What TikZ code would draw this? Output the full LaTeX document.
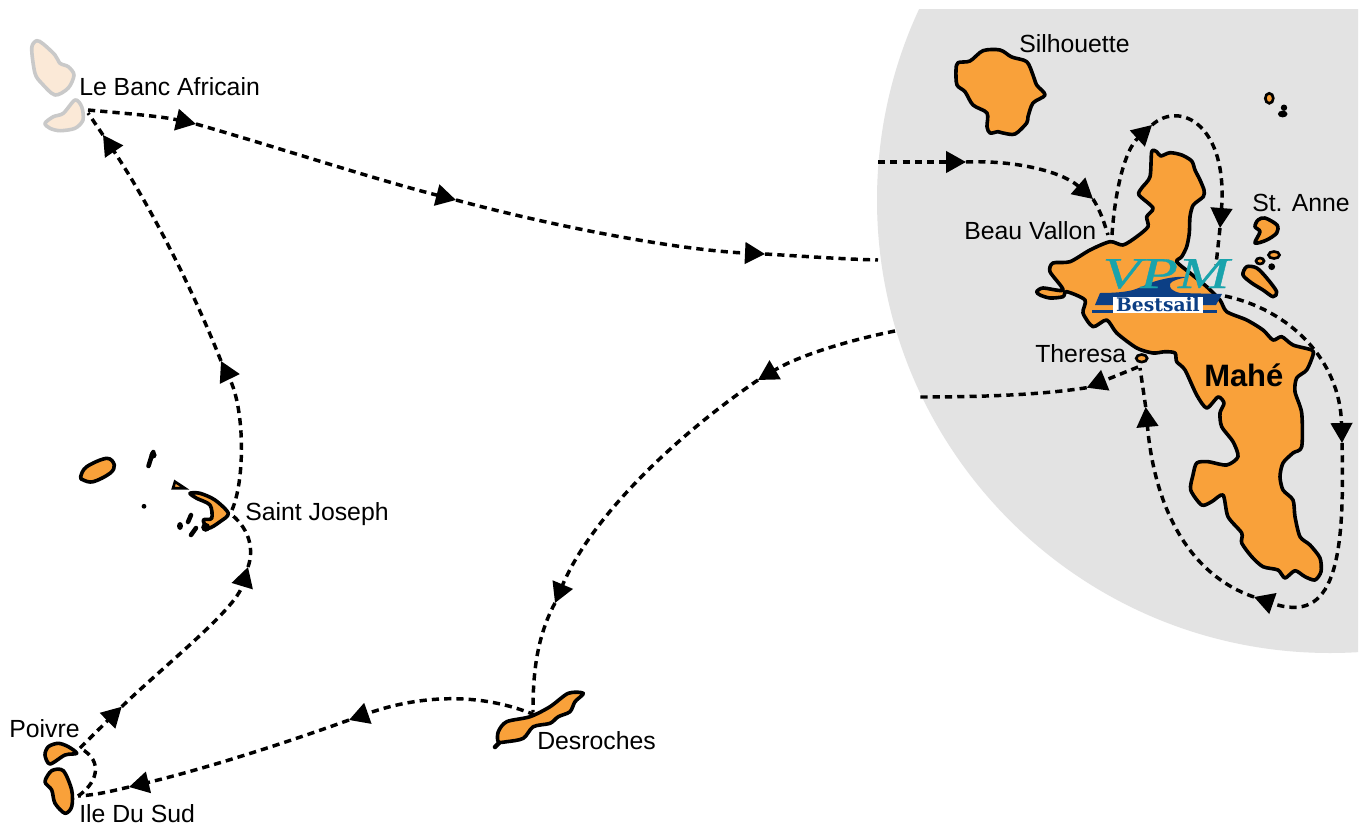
\documentclass[tikz,border=0pt]{standalone}
\usepackage{fontspec}
\setmainfont{Liberation Sans}
\newfontfamily\logoserif[FakeBold=0.7]{Liberation Serif}
\newfontfamily\logoslab{DejaVu Serif}
\usetikzlibrary{arrows.meta}
\definecolor{seagray}{HTML}{E3E3E3}
\definecolor{isle}{HTML}{F9A13A}
\definecolor{paleisle}{HTML}{FBE9D7}
\definecolor{paleedge}{HTML}{C9C9C9}
\definecolor{logoteal}{HTML}{19A3AC}
\definecolor{logoblue}{HTML}{0C3F85}
\tikzset{
  island/.style={draw=black,fill=isle,line width=2.7pt,line join=round},
  smallisland/.style={draw=black,fill=isle,line width=2pt},
  paleisland/.style={draw=paleedge,fill=paleisle,line width=2.7pt,line join=round},
  rockline/.style={draw=black,line width=3.4pt,line cap=round},
  route/.style={draw=black,line width=2.6pt,dash pattern=on 5.4pt off 3.8pt},
  tipped/.style={route,-{Triangle[length=15pt,width=16pt]}},
  place/.style={font=\fontsize{18.6}{20}\selectfont,anchor=base west,inner sep=0pt,text=black},
}
\begin{document}
\begin{tikzpicture}[x=0.75pt,y=-0.75pt]
\useasboundingbox (0,0) rectangle (1365,825);
\fill[white] (0,0) rectangle (1365,825);
\begin{scope}
\clip (0,9) rectangle (1358,825);
\fill[seagray] (1330,200) circle[radius=453];
\end{scope}

% Mahe
\draw[island] plot[smooth cycle,tension=0.45] coordinates {
(1151.7,151.7)(1156.7,151.7)(1160.7,156)(1170,152.7)(1181.7,155)(1191.7,161)(1195,170)(1200,180)(1204,190)(1203.3,196.7)(1193.3,205)(1190,216.7)(1189.3,233)(1186.7,246.7)(1181.7,256.7)(1176.7,261.7)(1190,273)(1206.7,286.7)(1220,300)(1226.7,311.7)(1246.7,320)(1263,330)(1273,340)(1281.7,336.7)(1293,345)(1311.7,350)(1313,355)(1306.7,370)(1296.7,378)(1295,391.7)(1301.7,413)(1301.7,446.7)(1293,453)(1283,463)(1280,476.7)(1283,490)(1293,500)(1295,516.7)(1300,536.7)(1310,545)(1320,558)(1321,571.7)(1315,580)(1305,576.7)(1295,570.7)(1285,578)(1278,570)(1263,566.7)(1251.7,556.7)(1241.7,543)(1241.7,533)(1228,516.7)(1223,495)(1211.7,501.7)(1201.7,505)(1190.7,490)(1193,475)(1196.7,463)(1208,461.7)(1226.7,465)(1238,456.7)(1233,441.7)(1221.7,426.7)(1220,413)(1224,403)(1218,397)(1206.7,408)(1196.7,395)(1185,370)(1176.7,361.7)(1175,353)(1165,351.7)(1153,353)(1136.7,348)(1116.7,333)(1106.7,320)(1093,326.7)(1083,313)(1085,300)(1066.7,291.7)(1063,296.7)(1050,298)(1040,295)(1036.7,291.7)(1043,288)(1063,290)(1050,271.7)(1053,263)(1070,261.7)(1090,250)(1110,241.7)(1123,245)(1136.7,236.7)(1148,226.7)(1146.7,216.7)(1153,208)(1139,195)(1141.7,188)(1150,176.7)};
% Silhouette
\draw[island] plot[smooth cycle,tension=0.5] coordinates {
(956,70)(958,62.7)(970,61)(983,50.7)(1000,50)(1011.7,57)(1026.7,61.7)(1033,75)(1036.7,85)(1045,95)(1033,103)(1028,116.7)(1026.7,123)(1015,134)(1003,133)(998,131.7)(990,133)(987,126.7)(987,113)(973,105)(965,91.7)(957,85)};
% St Anne group
\draw[island] plot[smooth cycle,tension=0.5] coordinates {(1258,220)(1265,218)(1277,225)(1276.7,233)(1266.7,240)(1255,243)(1260,231.7)(1255,226.7)};
\draw[island] plot[smooth cycle,tension=0.5] coordinates {(1243,275)(1246.7,266.7)(1256.7,268)(1266.7,278)(1276.7,291.7)(1273,296.7)(1263,290)(1251.7,283)};
\draw[smallisland] (1274,255) ellipse[x radius=5.5,y radius=3.5];
\draw[smallisland] (1260,261) ellipse[x radius=4,y radius=3];
\fill[black] (1271.7,266.7) circle[radius=3.4];
\draw[smallisland] (1269.3,98.3) ellipse[x radius=4,y radius=5];
\fill[black] (1284,107.7) circle[radius=3.2];
\fill[black] (1282.7,114) ellipse[x radius=4.8,y radius=3.4];
% Theresa
\draw[smallisland] (1141.7,358.3) ellipse[x radius=5.5,y radius=3.8];

% Le Banc Africain
\draw[paleisland] plot[smooth cycle,tension=0.5] coordinates {(31.7,48)(36.7,40.7)(43.3,44)(55,55)(60,63.3)(68.3,66.7)(74,75)(68.3,88)(55,95)(41.7,83.3)(35,73.3)};
\draw[paleisland] plot[smooth cycle,tension=0.5] coordinates {(45,123.3)(53.3,116.7)(63.3,113.3)(75,100)(81.7,106.7)(83,120)(75,128.3)(60,130.7)(50,128.3)};

% Saint Joseph group
\draw[island] plot[smooth cycle,tension=0.6] coordinates {(80.7,476.7)(86.7,466.7)(106.7,458.3)(114.3,465)(110,473.3)(93.3,481.7)(83.3,480)};
\draw[rockline] (153.3,452)--(151,458)--(148.5,466);
\fill[black] (153,455) circle[radius=3.6];
\fill[black] (144,506.3) circle[radius=2.4];
\draw[smallisland] (175,481.7)--(185,488.3)--(173,488.3)--cycle;
\draw[island] plot[smooth cycle,tension=0.5] coordinates {(190,493.3)(200,493.3)(215,500)(228.3,513.3)(220,521.7)(208.3,528.3)(203.3,520)(211.7,518.3)(210,505)(196.7,498.3)};
\fill[black] (180,526) ellipse[x radius=3,y radius=4];
\draw[rockline] (188,522)--(191,515);
\draw[rockline] (191,535)--(196,528);
\fill[black] (205.7,527.3) circle[radius=4.5];

% Southern islands
\draw[island] plot[smooth cycle,tension=0.5] coordinates {(45,755)(48.3,746.7)(58.3,743.3)(68.3,746.7)(76.7,753.3)(65,755)(50,764)};
\draw[island] plot[smooth cycle,tension=0.5] coordinates {(45,781.7)(51.7,770.7)(63.3,770.7)(71.7,790)(71.7,806.7)(65,813.3)(55,803.3)(51.7,790)};
\draw[island] plot[smooth cycle,tension=0.5] coordinates {(498.3,741.7)(498.3,731.7)(506.7,721.7)(530,716.7)(550,706.7)(568.3,693.3)(583.3,693.3)(575,701.7)(570,711.7)(558.3,716.7)(550,723.3)(533.3,726.7)(523.3,738.3)(506.7,741.7)};
\draw[rockline] (495,747)--(499,743);

% Route waypoints
\coordinate (banc) at (88,110);
\coordinate (bancS) at (88,113);
\coordinate (a1) at (196,124);
\coordinate (a2) at (456,200);
\coordinate (a3) at (765,254);
\coordinate (ringW) at (878,260);
\coordinate (joN) at (232,510);
\coordinate (joS) at (232,515);
\coordinate (b1) at (221,361);
\coordinate (b2) at (103,135);
\coordinate (poi) at (80,748);
\coordinate (c1) at (121.7,706.7);
\coordinate (c2) at (248,567);
\coordinate (sud) at (78,796);
\coordinate (des) at (535,715);
\coordinate (d1) at (349,720);
\coordinate (d2) at (129,787);
\coordinate (ringE) at (895,331);
\coordinate (e1) at (758,380);
\coordinate (e2) at (555,603);
\coordinate (desN) at (533,712);
\coordinate (ringN) at (878,162);
\coordinate (f1) at (966,162);
\coordinate (f2) at (1093,199);
\coordinate (bvA) at (1108,235);
\coordinate (bvB) at (1112,235);
\coordinate (g1) at (1152,125);
\coordinate (g2) at (1220,228);
\coordinate (vic) at (1216,265);
\coordinate (vicS) at (1225,296);
\coordinate (h1) at (1342,443);
\coordinate (h2) at (1254,597);
\coordinate (h3) at (1145.7,407);
\coordinate (the) at (1140,368);
\coordinate (theW) at (1138,367);
\coordinate (i1) at (1086.7,387.7);
\coordinate (ringS) at (920,397);

% Routes
\draw[tipped] (banc) .. controls (120,113) and (160,116) .. (a1);
\draw[tipped] (a1) .. controls (280,148) and (370,178) .. (a2);
\draw[tipped] (a2) .. controls (560,228) and (680,250) .. (a3);
\draw[route] (a3) .. controls (800,256) and (840,259) .. (ringW);
\draw[tipped] (joN) .. controls (245,480) and (245,410) .. (b1);
\draw[tipped] (b1) .. controls (185,270) and (140,190) .. (b2);
\draw[route] (b2) -- (bancS);
\draw[tipped] (poi) -- (c1);
\draw[tipped] (c1) .. controls (165,665) and (235,610) .. (c2);
\draw[route] (c2) .. controls (254,550) and (250,530) .. (joS);
\draw[route] (sud) .. controls (95,785) and (106,762) .. (poi);
\draw[tipped] (des) .. controls (480,692) and (420,695) .. (d1);
\draw[tipped] (d1) .. controls (280,745) and (200,770) .. (d2);
\draw[route] (d2) .. controls (108,792) and (95,795) .. (sud);
\draw[tipped] (ringE) .. controls (850,340) and (800,355) .. (e1);
\draw[tipped] (e1) .. controls (670,440) and (590,520) .. (e2);
\draw[route] (e2) .. controls (535,640) and (533,680) .. (desN);
\draw[tipped] (ringN) -- (f1);
\draw[tipped] (f1) .. controls (1010,160) and (1060,170) .. (f2);
\draw[route] (f2) .. controls (1100,210) and (1104,222) .. (bvA);
\draw[tipped] (bvB) .. controls (1115,190) and (1125,150) .. (g1);
\draw[tipped] (g1) .. controls (1180,100) and (1228,125) .. (g2);
\draw[route] (g2) -- (vic);
\draw[tipped] (vicS) .. controls (1290,310) and (1340,360) .. (h1);
\draw[tipped] (h1) .. controls (1345,560) and (1335,625) .. (h2);
\draw[tipped] (h2) .. controls (1190,575) and (1155,510) .. (h3);
\draw[route] (h3) -- (the);
\draw[tipped] (theW) -- (i1);
\draw[route] (i1) .. controls (1040,395) and (980,397) .. (ringS);

% Logo
\fill[logoblue] (1100,293) .. controls (1115,293) and (1125,292) .. (1133,290) .. controls (1142,287) and (1148,284) .. (1153,282) .. controls (1162,279) and (1175,276) .. (1187,277) .. controls (1178,279) and (1171,281) .. (1170,284) .. controls (1169,288) and (1172,291) .. (1180,293) -- (1222,294) -- (1216,305) -- (1095,305) -- cycle;
\fill[logoblue] (1092,309.5) rectangle (1217,313);
\node[inner sep=0pt,anchor=base,text=logoteal] (logovpm) at (1166,288) {\scalebox{1.4}[1]{\logoserif\itshape\fontsize{33}{34}\selectfont VPM}};
\node[fill=white,inner sep=0pt,minimum width=67.5pt,minimum height=12.5pt,text=logoblue] (logobest) at (1158,305) {\logoslab\bfseries\fontsize{14}{14}\selectfont Bestsail};

% Labels
\node[place] (lblbanc) at (79,95) {Le Banc Africain};
\node[place] (lblsil) at (1019,52) {Silhouette};
\node[place] (lblbeau) at (964,239) {Beau Vallon};
\node[place] (lblanne) at (1252,211) {St. Anne};
\node[place] (lblthe) at (1035,362) {Theresa};
\node[place,font=\bfseries\fontsize{23.2}{25}\selectfont] (lblmahe) at (1204,386) {Mahé};
\node[place] (lbljos) at (245,520) {Saint Joseph};
\node[place] (lbldes) at (537,749) {Desroches};
\node[place] (lblpoi) at (9,737) {Poivre};
\node[place] (lblsud) at (79,822) {Ile Du Sud};
\end{tikzpicture}
\end{document}
